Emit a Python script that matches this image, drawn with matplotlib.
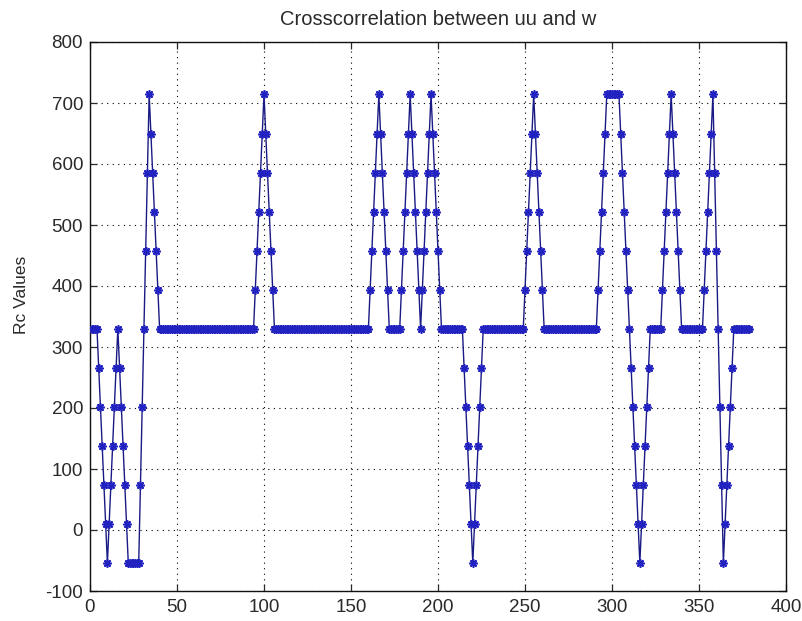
import matplotlib
matplotlib.use("Agg")
import matplotlib.pyplot as plt
import numpy as np

title_text = "Crosscorrelation between uu and w"
y_label = "Rc Values"
x_ticks = [0, 50, 100, 150, 200, 250, 300, 350, 400]
y_ticks = [-100, 0, 100, 200, 300, 400, 500, 600, 700, 800]

# cross-correlation values, one per lag index (1..379)
rc_values = [
    330, 330, 330, 330,
    266, 202, 138, 74, 10, -54, 10, 74, 138, 202, 266, 330, 266, 202, 138, 74, 10,
    -54, -54, -54, -54, -54, -54, -54,
    74, 202, 330, 458, 586, 714, 650, 586, 522, 458, 394,
    330, 330, 330, 330, 330, 330, 330, 330, 330, 330, 330, 330, 330, 330, 330,
    330, 330, 330, 330, 330, 330, 330, 330, 330, 330, 330, 330, 330, 330, 330,
    330, 330, 330, 330, 330, 330, 330, 330, 330, 330, 330, 330, 330, 330, 330,
    330, 330, 330, 330, 330, 330, 330, 330, 330, 330,
    394, 458, 522, 586, 650, 714, 650, 586, 522, 458, 394,
    330, 330, 330, 330, 330, 330, 330, 330, 330, 330, 330, 330, 330, 330, 330,
    330, 330, 330, 330, 330, 330, 330, 330, 330, 330, 330, 330, 330, 330, 330,
    330, 330, 330, 330, 330, 330, 330, 330, 330, 330, 330, 330, 330, 330, 330,
    330, 330, 330, 330, 330, 330, 330, 330, 330, 330,
    394, 458, 522, 586, 650, 714, 650, 586, 522, 458, 394,
    330, 330, 330, 330, 330, 330, 330,
    394, 458, 522, 586, 650, 714, 650, 586, 522, 458, 394, 330,
    394, 458, 522, 586, 650, 714, 650, 586, 522, 458, 394,
    330, 330, 330, 330, 330, 330, 330, 330, 330, 330, 330, 330, 330,
    266, 202, 138, 74, 10, -54, 10, 74, 138, 202, 266,
    330, 330, 330, 330, 330, 330, 330, 330, 330, 330, 330, 330,
    330, 330, 330, 330, 330, 330, 330, 330, 330, 330, 330, 330,
    394, 458, 522, 586, 650, 714, 650, 586, 522, 458, 394,
    330, 330, 330, 330, 330, 330, 330, 330, 330, 330, 330, 330, 330, 330, 330, 330,
    330, 330, 330, 330, 330, 330, 330, 330, 330, 330, 330, 330, 330, 330, 330,
    394, 458, 522, 586, 650,
    714, 714, 714, 714, 714, 714, 714, 714,
    650, 586, 522, 458, 394, 330, 266, 202, 138, 74, 10, -54, 10, 74, 138, 202, 266,
    330, 330, 330, 330, 330, 330, 330,
    394, 458, 522, 586, 650, 714, 650, 586, 522, 458, 394,
    330, 330, 330, 330, 330, 330, 330, 330, 330, 330, 330, 330, 330,
    394, 458, 522, 586, 650, 714, 586, 458, 330, 202, 74, -54, 10, 74, 138, 202, 266,
    330, 330, 330, 330, 330, 330, 330, 330, 330, 330,
]

lags = np.arange(1, len(rc_values) + 1)

plt.rcParams["font.family"] = ["Liberation Sans", "DejaVu Sans"]
text_color = "#2a2a2a"

fig = plt.figure(figsize=(8.03, 6.21), dpi=100)
fig.patch.set_facecolor("white")
ax = fig.add_axes([90 / 803, 1 - 591 / 621, 696 / 803, 549 / 621])

ax.plot(lags, rc_values, color="#1a1a85", linewidth=1.0,
        marker=(8, 2, 0), markersize=6, markeredgewidth=1.2,
        markeredgecolor="#2222c0", zorder=3)

ax.set_xlim(0, 400)
ax.set_ylim(-100, 800)
ax.set_xticks(x_ticks)
ax.set_xticklabels([str(v) for v in x_ticks])
ax.set_yticks(y_ticks)
ax.set_yticklabels([str(v) for v in y_ticks])
ax.grid(True, color="black", linestyle=(0, (1, 4)), linewidth=0.8)
ax.tick_params(direction="in", top=True, right=True, length=5, width=0.9,
               labelsize=13.5, colors=text_color)
ax.tick_params(axis="x", pad=6)
ax.tick_params(axis="y", pad=5)
for sp in ax.spines.values():
    sp.set_linewidth(1.0)
    sp.set_color("#111111")

ax.set_title(title_text, fontsize=14.5, color=text_color, pad=12)
ax.set_ylabel(y_label, fontsize=12.5, color=text_color)
ax.yaxis.set_label_coords(-0.087, 0.54)

fig.savefig("out.png", dpi=100, facecolor="white")
